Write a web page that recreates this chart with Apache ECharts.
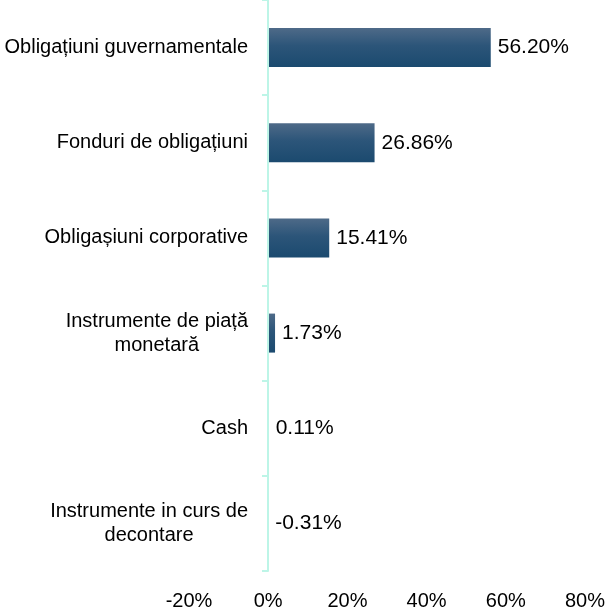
<!DOCTYPE html>
<html>
<head>
<meta charset="utf-8">
<script src="https://cdn.jsdelivr.net/npm/echarts@6/dist/echarts.min.js"></script>
<style>
  html, body { margin: 0; padding: 0; background: #fff; }
  #chart { width: 609px; height: 612px; }
</style>
</head>
<body>
<div id="chart"></div>
<script>
// date
var categorii = [
  'Obligațiuni guvernamentale',
  'Fonduri de obligațiuni',
  'Obligașiuni corporative',
  'Instrumente de piață\nmonetară',
  'Cash',
  'Instrumente in curs de\ndecontare'
];
var valori = [56.20, 26.86, 15.41, 1.73, 0.11, -0.31];
var tickuri = [-20, 0, 20, 40, 60, 80];

var culoareAx = '#bdf5e7';
var font = 'Liberation Sans';

var grafic = echarts.init(document.getElementById('chart'));
var option = {
  animation: false,
  grid: { left: 189, right: 24, top: 0, bottom: 41, containLabel: false, outerBoundsMode: 'none' },
  xAxis: {
    type: 'value',
    min: tickuri[0],
    max: tickuri[tickuri.length - 1],
    interval: 20,
    axisLine: { show: false },
    axisTick: { show: false },
    splitLine: { show: false },
    axisLabel: {
      margin: 20,
      color: '#000',
      fontFamily: font,
      fontSize: 20,
      formatter: function (v) { return v + '%'; }
    }
  },
  yAxis: {
    type: 'category',
    inverse: true,
    data: categorii,
    offset: -79,
    z: 3,
    axisLine: { show: true, onZero: false, lineStyle: { color: culoareAx, width: 2 } },
    axisTick: { show: true, length: 6, lineStyle: { color: culoareAx, width: 2 } },
    axisLabel: {
      margin: 20,
      color: '#000',
      fontFamily: font,
      fontSize: 20,
      lineHeight: 24,
      formatter: function (v) {
        return v.split('\n').map(function (r) { return '{c|' + r + '}'; }).join('\n');
      },
      rich: {
        c: { align: 'center', fontFamily: font, fontSize: 20, lineHeight: 24, color: '#000' }
      }
    }
  },
  series: [{
    type: 'bar',
    data: valori,
    barWidth: 39,
    itemStyle: {
      color: new echarts.graphic.LinearGradient(0, 0, 0, 1, [
        { offset: 0, color: '#4e6a88' },
        { offset: 0.45, color: '#2c5579' },
        { offset: 1, color: '#1b4a6f' }
      ])
    },
    label: {
      show: true,
      position: 'right',
      distance: 7,
      color: '#000',
      fontFamily: font,
      fontSize: 21,
      formatter: function (p) { return p.value.toFixed(2) + '%'; }
    }
  }]
};
grafic.setOption(option);
</script>
</body>
</html>
